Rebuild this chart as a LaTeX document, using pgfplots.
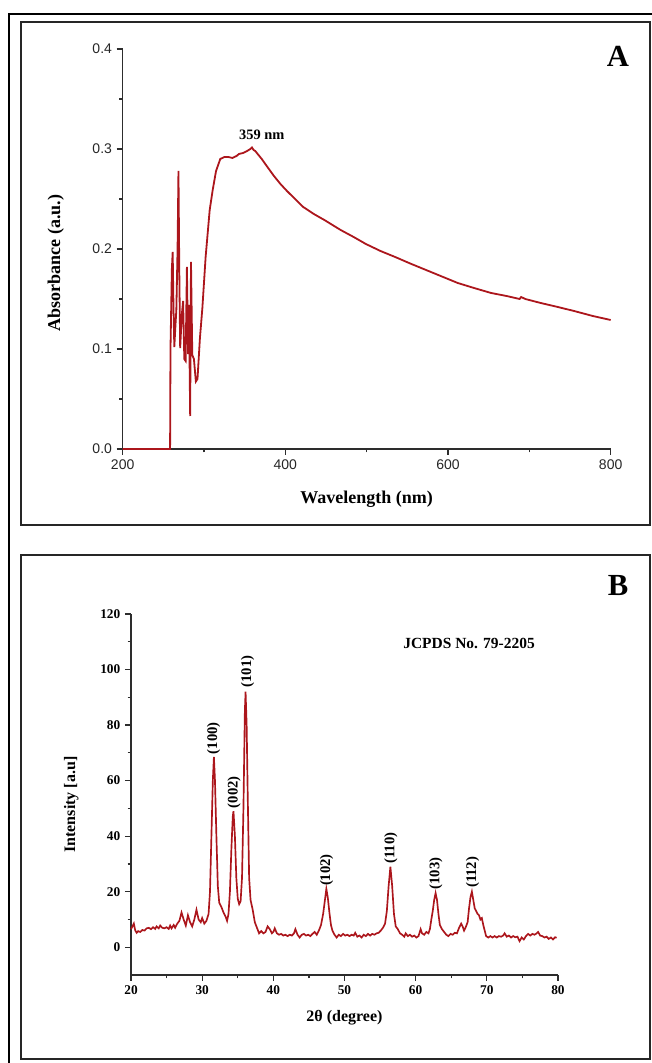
\documentclass[border=0pt]{standalone}
\usepackage{fontspec}
\setmainfont{Liberation Serif}
\setsansfont{Liberation Sans}
\usepackage{pgfplots}
\pgfplotsset{compat=1.18}
\definecolor{curve}{RGB}{172,22,28}
\definecolor{axisgray}{RGB}{45,45,45}

\pgfplotsset{panel/.style={
  scale only axis, anchor=south west,
  axis lines=left, axis line style={-, axisgray, line width=0.9pt},
  tick align=outside, tick style={axisgray, line width=0.9pt},
  major tick length=4.5pt, minor tick length=2.5pt,
  enlargelimits=false, scaled ticks=false, clip=false,
  /pgf/number format/assume math mode=true,
}}

\begin{document}
\begin{tikzpicture}
\useasboundingbox (0,0) rectangle (489pt,797.25pt);
% frames
\draw[line width=1.6pt] (6.75pt,-3pt) -- (6.75pt,786.75pt) -- (495pt,786.75pt);
\draw[line width=1.4pt, black!85] (15.75pt,403.5pt) rectangle (487.5pt,780.75pt);
\draw[line width=1.4pt, black!85] (15.75pt,3pt) rectangle (487.5pt,381pt);

% ---- panel A: UV-vis
\begin{axis}[panel,
  at={(92pt,460.5pt)}, width=366pt, height=300pt,
  xmin=200, xmax=800, ymin=0, ymax=0.4,
  xtick={200,400,600,800}, ytick={0,0.1,0.2,0.3,0.4},
  minor tick num=1,
  yticklabel style={/pgf/number format/.cd, fixed, fixed zerofill, precision=1},
  tick label style={font=\sffamily\fontsize{10.5}{12}\selectfont, text=black!85},
  label style={font=\bfseries\fontsize{13.5}{16}\selectfont},
  xlabel={Wavelength (nm)}, ylabel={Absorbance (a.u.)},
  xlabel style={at={(axis description cs:0.5,-0.125)}, anchor=center},
  ylabel style={at={(axis description cs:-0.137,0.465)}, anchor=center},
]
\addplot[curve, line width=1.35pt] coordinates {
(200,0) (258.3,0) (258.8,0.10) (260.5,0.18) (261.5,0.197) (262.5,0.14) (263.5,0.102)
(265,0.125) (266,0.139) (267.5,0.20) (268.6,0.278) (269.6,0.18) (270.7,0.101)
(272.7,0.134) (274.3,0.148) (275.8,0.090) (277.4,0.088) (279,0.182) (280.4,0.095)
(281.5,0.144) (283,0.033) (284,0.187) (285.6,0.094) (287.6,0.090) (290,0.0675)
(292,0.070) (295,0.111) (298,0.141) (302,0.192) (307,0.239) (310.7,0.259)
(314.8,0.278) (320,0.290) (325,0.292) (330,0.292) (335,0.291) (340,0.293)
(343,0.295) (348,0.296) (353,0.298) (357,0.300) (359,0.3015) (361,0.299)
(363,0.298) (367,0.294) (371,0.290) (378,0.282) (386,0.273) (394,0.265)
(402,0.258) (412,0.250) (422,0.242) (435,0.235) (448,0.229) (458,0.224)
(468,0.219) (484,0.212) (499,0.205) (517,0.198) (535,0.192) (555,0.185)
(576,0.178) (594,0.172) (612,0.166) (632,0.161) (653,0.156) (672,0.153)
(688,0.150) (690,0.152) (695,0.150) (714,0.146) (735,0.142) (755,0.138)
(778,0.133) (800,0.129)};
\node[font=\bfseries\fontsize{10.8}{13}\selectfont] at (axis cs:371,0.314) {359 nm};
\end{axis}
\node[font=\bfseries\fontsize{23}{26}\selectfont] at (463.5pt,755.25pt) {A};

% ---- panel B: XRD
\begin{axis}[panel,
  at={(98.25pt,66pt)}, width=320.25pt, height=270.75pt,
  xmin=20, xmax=80, ymin=-10, ymax=120,
  xtick={20,30,...,80}, ytick={0,20,...,120},
  minor tick num=1,
  tick label style={font=\bfseries\fontsize{10}{12}\selectfont},
  label style={font=\bfseries\fontsize{12}{14}\selectfont},
  xlabel={2θ (degree)}, ylabel={Intensity [a.u]},
  xlabel style={at={(axis description cs:0.5,-0.119)}, anchor=center},
  ylabel style={at={(axis description cs:-0.14,0.472)}, anchor=center},
]
\addplot[curve, line width=1.25pt] coordinates {
(20.0,6.5) (20.2,7.5) (20.4,8.5) (20.6,6.0) (20.8,5.2) (21.0,5.8) (21.3,5.5) (21.6,6.2)
(21.9,6.0) (22.2,6.8) (22.5,7.0) (22.8,6.5) (23.1,7.2) (23.4,6.6) (23.6,7.5) (23.9,6.8)
(24.1,7.8) (24.4,7.0) (24.7,6.8) (25.0,7.2) (25.3,6.6) (25.5,7.8) (25.7,6.8) (26.0,8.0)
(26.2,7.0) (26.5,8.5) (26.8,9.5) (27.1,12.5) (27.4,10.0) (27.7,7.8) (28.0,11.5) (28.3,9.0)
(28.6,7.5) (28.9,10.0) (29.2,13.5) (29.5,10.0) (29.8,9.0) (30.0,10.5) (30.3,8.5) (30.6,9.5)
(30.9,12.0) (31.1,20.0) (31.3,40.0) (31.5,60.0) (31.65,68.5) (31.8,60.0) (32.0,40.0)
(32.2,22.0) (32.4,16.0) (32.7,14.5) (33.0,12.5) (33.3,11.0) (33.5,9.5) (33.7,12.0)
(33.9,20.0) (34.1,35.0) (34.3,47.0) (34.4,49.0) (34.6,40.0) (34.8,25.0) (35.0,17.5)
(35.2,15.5) (35.4,16.5) (35.6,25.0) (35.8,50.0) (36.0,85.0) (36.1,92.0) (36.25,80.0)
(36.4,55.0) (36.6,25.0) (36.8,17.0) (37.1,13.5) (37.4,9.0) (37.7,7.0) (38.0,5.0)
(38.3,5.8) (38.6,5.0) (38.9,5.5) (39.2,7.5) (39.5,6.5) (39.8,5.0) (40.0,5.5) (40.2,6.8)
(40.5,5.0) (40.8,4.5) (41.1,4.8) (41.4,4.2) (41.7,4.5) (42.0,4.0) (42.3,4.5) (42.6,4.2)
(42.9,5.0) (43.1,6.5) (43.4,4.5) (43.7,3.5) (44.0,4.5) (44.3,4.8) (44.6,4.2) (44.9,4.5)
(45.2,4.0) (45.5,4.8) (45.8,5.5) (46.1,4.5) (46.4,6.0) (46.7,8.0) (47.0,12.0) (47.25,17.0)
(47.45,21.0) (47.65,18.0) (47.9,12.0) (48.1,8.0) (48.3,6.0) (48.6,4.5) (48.9,3.5)
(49.2,4.5) (49.5,4.0) (49.8,4.8) (50.1,4.2) (50.4,4.5) (50.7,4.0) (51.0,4.5) (51.3,4.2)
(51.5,5.2) (51.8,3.8) (52.1,4.2) (52.4,3.5) (52.7,4.5) (53.0,4.0) (53.3,4.8) (53.6,4.2)
(53.9,4.8) (54.2,4.5) (54.5,5.0) (54.8,5.2) (55.1,6.0) (55.4,7.0) (55.7,8.5) (55.95,13.0)
(56.2,22.0) (56.45,29.0) (56.7,22.0) (56.95,12.0) (57.2,7.5) (57.5,6.5) (57.8,5.0)
(58.1,4.5) (58.4,3.8) (58.6,5.0) (58.9,4.0) (59.2,4.5) (59.5,3.8) (59.8,4.2) (60.1,3.5)
(60.4,4.0) (60.7,6.5) (60.9,5.0) (61.2,4.5) (61.5,5.5) (61.8,5.0) (62.0,6.5) (62.2,10.0)
(62.4,13.0) (62.6,17.0) (62.8,19.5) (63.0,17.0) (63.2,12.0) (63.4,8.0) (63.7,6.5)
(64.0,5.5) (64.3,4.5) (64.6,4.0) (64.9,4.8) (65.2,4.5) (65.5,5.2) (65.8,5.0) (66.1,7.0)
(66.4,8.5) (66.6,7.5) (66.8,6.0) (67.0,7.0) (67.3,9.0) (67.5,14.0) (67.7,18.0) (67.9,20.0)
(68.1,17.0) (68.3,14.0) (68.5,13.0) (68.7,12.0) (68.9,11.5) (69.1,10.0) (69.3,10.5)
(69.5,8.0) (69.7,6.0) (69.9,4.0) (70.2,3.5) (70.5,4.0) (70.8,3.5) (71.1,4.0) (71.4,3.5)
(71.7,4.0) (72.0,3.8) (72.3,4.2) (72.5,5.0) (72.8,3.8) (73.1,4.2) (73.4,3.5) (73.7,4.0)
(74.0,3.6) (74.3,3.8) (74.6,2.2) (74.9,3.5) (75.2,2.8) (75.5,4.0) (75.8,4.8) (76.1,4.2)
(76.4,4.8) (76.7,4.5) (77.0,5.0) (77.2,5.5) (77.5,4.2) (77.8,4.0) (78.1,3.5) (78.4,3.8)
(78.7,3.0) (79.0,3.5) (79.3,2.8) (79.6,3.6) (79.8,3.4)};
\begin{scope}[every node/.style={font=\bfseries\fontsize{11}{13}\selectfont, rotate=90, anchor=west, inner sep=1pt}]
\node at (axis cs:31.6,69.0) {(100)};
\node at (axis cs:34.5,49.5) {(002)};
\node at (axis cs:36.4,93.0) {(101)};
\node at (axis cs:47.5,21.5) {(102)};
\node at (axis cs:56.5,29.5) {(110)};
\node at (axis cs:62.85,20.3) {(103)};
\node at (axis cs:68.0,20.8) {(112)};
\end{scope}
\node[font=\bfseries\fontsize{11.6}{14}\selectfont] at (axis cs:67.5,109.3) {JCPDS No. 79-2205};
\end{axis}
\node[font=\bfseries\fontsize{23}{26}\selectfont] at (463.5pt,357.75pt) {B};
\end{tikzpicture}
\end{document}
